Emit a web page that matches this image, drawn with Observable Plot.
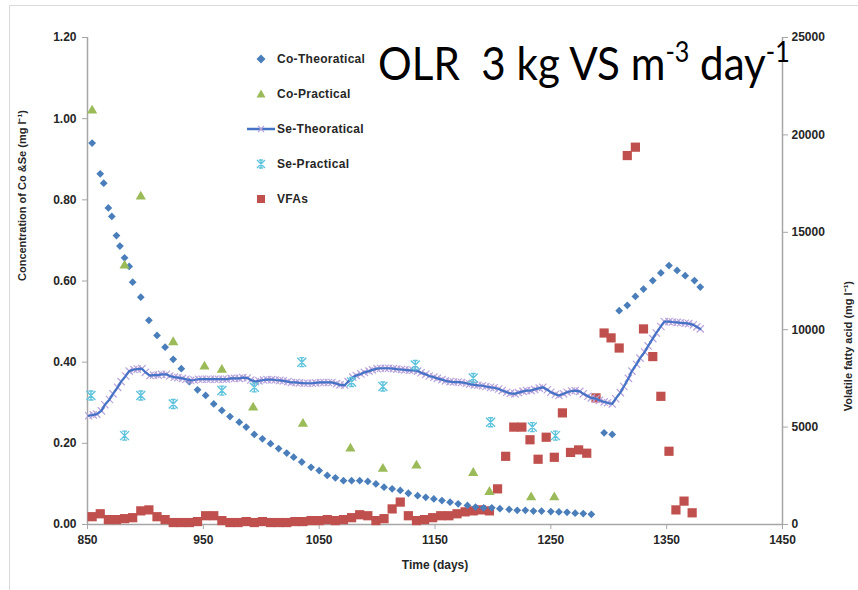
<!DOCTYPE html>
<html><head><meta charset="utf-8">
<script src="https://cdn.jsdelivr.net/npm/d3@7"></script>
<script src="https://cdn.jsdelivr.net/npm/@observablehq/plot@0.6"></script>
<style>
body{margin:0;background:#fff;}
#wrap{position:relative;width:858px;height:590px;overflow:hidden;font-family:"Liberation Sans",Arial,sans-serif;}
#border{position:absolute;left:9px;top:5px;width:870px;height:620px;border:1px solid #d9d9d9;}
#chart{position:absolute;left:0;top:0;}
.lrow{position:absolute;left:244px;height:16px;display:flex;align-items:center;font-weight:bold;font-size:12px;color:#262626;letter-spacing:0.3px;white-space:nowrap;}
.lrow svg{width:33px;height:16px;flex:none;}
</style></head><body>
<div id="wrap"><div id="border"></div><div id="chart"></div><div id="legend"></div></div>
<script>
// ---- data (day, value) ----
const coTheo = [[854,0.94],[861,0.864],[864,0.841],[868,0.78],[871,0.759],[875,0.712],[878,0.686],[882,0.657],[886,0.636],[889,0.597],[896,0.56],[903,0.503],[910,0.466],[917,0.437],[924,0.407],[931,0.384],[938,0.352],[945,0.332],[952,0.318],[959,0.297],[966,0.281],[973,0.266],[981,0.252],[987,0.24],[994,0.222],[1001,0.211],[1008,0.199],[1015,0.187],[1022,0.176],[1028,0.166],[1035,0.154],[1043,0.141],[1050,0.133],[1057,0.121],[1064,0.115],[1071,0.108],[1078,0.108],[1085,0.108],[1092,0.106],[1099,0.1],[1106,0.092],[1113,0.088],[1120,0.084],[1127,0.077],[1135,0.071],[1142,0.067],[1149,0.063],[1156,0.059],[1163,0.055],[1170,0.051],[1178,0.047],[1185,0.043],[1192,0.041],[1199,0.041],[1206,0.039],[1214,0.037],[1221,0.035],[1228,0.035],[1235,0.033],[1242,0.033],[1250,0.032],[1257,0.031],[1264,0.03],[1271,0.028],[1278,0.027],[1285,0.025],[1296,0.226],[1303,0.222],[1309,0.527],[1316,0.54],[1323,0.562],[1330,0.58],[1338,0.601],[1345,0.62],[1352,0.638],[1359,0.626],[1366,0.613],[1374,0.601],[1379,0.585]];
const coPrac = [[854,1.02],[882,0.638],[896,0.808],[924,0.449],[951,0.389],[966,0.381],[993,0.288],[1036,0.248],[1077,0.187],[1105,0.137],[1134,0.145],[1183,0.127],[1197,0.08],[1233,0.067],[1253,0.067]];
const seTheo = [[851,0.268],[855,0.270],[858,0.272],[862,0.280],[865,0.295],[869,0.308],[872,0.322],[876,0.338],[879,0.352],[883,0.366],[886,0.378],[890,0.382],[893,0.383],[897,0.384],[900,0.375],[904,0.367],[907,0.368],[911,0.368],[914,0.370],[918,0.370],[921,0.366],[925,0.363],[928,0.362],[932,0.360],[935,0.358],[939,0.355],[942,0.356],[946,0.358],[949,0.358],[953,0.358],[956,0.358],[960,0.358],[963,0.358],[967,0.358],[970,0.358],[974,0.360],[977,0.360],[981,0.360],[984,0.362],[988,0.361],[991,0.356],[995,0.352],[998,0.354],[1002,0.356],[1005,0.357],[1009,0.357],[1012,0.356],[1016,0.355],[1019,0.354],[1023,0.352],[1026,0.350],[1030,0.350],[1033,0.349],[1037,0.348],[1040,0.348],[1044,0.348],[1047,0.349],[1051,0.350],[1054,0.350],[1058,0.350],[1061,0.350],[1065,0.347],[1068,0.344],[1072,0.343],[1075,0.352],[1079,0.363],[1082,0.367],[1086,0.371],[1089,0.375],[1093,0.378],[1096,0.381],[1100,0.384],[1103,0.385],[1107,0.385],[1110,0.385],[1114,0.384],[1117,0.383],[1121,0.382],[1124,0.381],[1128,0.380],[1131,0.380],[1135,0.378],[1138,0.374],[1142,0.370],[1145,0.366],[1149,0.363],[1152,0.360],[1156,0.357],[1159,0.354],[1163,0.352],[1166,0.351],[1170,0.351],[1173,0.350],[1177,0.348],[1180,0.346],[1184,0.344],[1187,0.343],[1191,0.342],[1194,0.340],[1198,0.338],[1201,0.337],[1205,0.334],[1208,0.330],[1212,0.326],[1215,0.323],[1219,0.322],[1222,0.325],[1226,0.328],[1229,0.330],[1233,0.330],[1236,0.333],[1240,0.336],[1243,0.338],[1247,0.332],[1250,0.326],[1254,0.321],[1257,0.318],[1261,0.322],[1264,0.326],[1268,0.329],[1271,0.330],[1275,0.328],[1278,0.322],[1282,0.316],[1285,0.312],[1289,0.310],[1292,0.306],[1296,0.302],[1299,0.300],[1303,0.297],[1306,0.310],[1310,0.325],[1313,0.340],[1317,0.360],[1320,0.378],[1324,0.395],[1327,0.410],[1331,0.425],[1334,0.440],[1338,0.458],[1341,0.472],[1345,0.488],[1348,0.500],[1352,0.500],[1355,0.499],[1359,0.498],[1362,0.497],[1366,0.496],[1369,0.495],[1373,0.492],[1376,0.487],[1379,0.482]];
const sePrac = [[853,0.318],[882,0.219],[896,0.318],[924,0.297],[966,0.33],[994,0.338],[1035,0.40],[1078,0.351],[1105,0.34],[1133,0.393],[1183,0.361],[1198,0.252],[1234,0.24],[1254,0.219]];
const vfa = [[854,400],[861,550],[868,250],[875,250],[882,300],[889,350],[896,700],[903,750],[910,400],[917,250],[924,100],[931,100],[938,100],[945,150],[952,450],[959,450],[966,200],[973,100],[980,100],[987,150],[994,100],[1001,150],[1008,100],[1015,100],[1022,100],[1029,150],[1036,150],[1043,200],[1050,200],[1057,250],[1064,200],[1071,250],[1078,350],[1085,500],[1092,450],[1099,200],[1106,300],[1113,800],[1120,1150],[1127,450],[1134,200],[1141,250],[1148,350],[1155,450],[1162,450],[1169,550],[1176,650],[1183,700],[1190,750],[1197,700],[1204,1830],[1211,3500],[1218,5000],[1225,5000],[1232,4350],[1239,3350],[1246,4480],[1253,3450],[1260,5730],[1267,3700],[1274,3830],[1281,3660],[1289,6500],[1296,9830],[1302,9580],[1309,9060],[1316,18940],[1323,19370],[1330,10040],[1338,8620],[1345,6580],[1352,3760],[1358,750],[1365,1200],[1372,600]];
const xTicks = [850,950,1050,1150,1250,1350,1450];
const leftTicks = [0,0.2,0.4,0.6,0.8,1.0,1.2];
const rightTicks = [0,5000,10000,15000,20000,25000];
const seriesNames = ["Co-Theoratical","Co-Practical","Se-Theoratical","Se-Practical","VFAs"];
const titleParts = ["OLR  3 kg VS m","-3"," day","-1"];

// ---- styles ----
const C = {blue:"#4a7ebb", green:"#9bbb59", line:"#4472c4", lav:"#b9a3dc", cyan:"#5ec3dc", red:"#c0504d", axis:"#a6a6a6", text:"#262626"};
const RMAX = 25000, LMAX = 1.2;
const toLeft = v => v * LMAX / RMAX;

const starSym = {draw(ctx, size){ const r = Math.sqrt(size/Math.PI);
  ctx.moveTo(-r,-r); ctx.lineTo(r,r); ctx.moveTo(-r,r); ctx.lineTo(r,-r);
  ctx.moveTo(0,-r); ctx.lineTo(0,r);
  ctx.moveTo(-r*0.55,-r); ctx.lineTo(r*0.55,-r); ctx.moveTo(-r*0.55,r); ctx.lineTo(r*0.55,r);}};

const chart = Plot.plot({
  width: 858, height: 590,
  marginLeft: 87, marginRight: 76, marginTop: 37, marginBottom: 66,
  x: {domain: [850, 1450]},
  y: {domain: [0, LMAX]},
  style: {fontFamily: '"Liberation Sans", Arial, sans-serif', fontSize: "12px", fontWeight: "bold", background: "transparent", overflow: "visible"},
  marks: [
    Plot.ruleY([0], {stroke: C.axis, strokeWidth: 1.5}),
    Plot.ruleX([850], {stroke: C.axis, strokeWidth: 1.5}),
    Plot.ruleX([1450], {stroke: C.axis, strokeWidth: 1.5}),
    Plot.axisX(xTicks, {anchor: "bottom", tickSize: 5, tickPadding: 6, stroke: C.axis, fill: C.text, label: null, tickFormat: d => String(d)}),
    Plot.axisY(leftTicks, {anchor: "left", tickSize: 5, tickPadding: 6, stroke: C.axis, fill: C.text, label: null, tickFormat: d => d.toFixed(2)}),
    Plot.axisY(rightTicks.map(toLeft), {anchor: "right", tickSize: 5, tickPadding: 4, stroke: C.axis, fill: C.text, label: null, tickFormat: d => String(Math.round(d * RMAX / LMAX))}),
    Plot.text(["Concentration of Co &Se (mg l⁻¹)"], {frameAnchor: "left", dx: -65, rotate: -90, fontSize: 11, fill: C.text}),
    Plot.text(["Volatile fatty acid (mg l⁻¹)"], {frameAnchor: "right", dx: 66, rotate: -90, fontSize: 11, fill: C.text}),
    Plot.text(["Time (days)"], {frameAnchor: "bottom", dy: 44, fontSize: 12, fill: C.text}),
    Plot.dot(vfa, {x: d => d[0], y: d => toLeft(d[1]), symbol: "square", r: 5.2, fill: C.red}),
    Plot.dot(coTheo, {x: d => d[0], y: d => d[1], symbol: "diamond2", r: 3.5, fill: C.blue}),
    Plot.dot(coPrac, {x: d => d[0], y: d => d[1], symbol: "triangle", r: 3.8, fill: C.green}),
    Plot.dot(seTheo, {x: d => d[0], y: d => d[1], symbol: "times", r: 3.4, stroke: C.lav, strokeWidth: 1.2}),
    Plot.line(seTheo, {x: d => d[0], y: d => d[1], stroke: C.line, strokeWidth: 2.2}),
    Plot.dot(sePrac, {x: d => d[0], y: d => d[1], symbol: starSym, r: 4.5, stroke: C.cyan, strokeWidth: 1.4})
  ]
});
document.getElementById("chart").append(chart);

// title inside the chart
const svg = d3.select(chart);
const t = svg.append("text").attr("transform", "translate(378,80)")
  .attr("text-anchor", "start")
  .attr("font-family", 'Lato,"Open Sans",sans-serif')
  .attr("font-size", 47).attr("font-weight", "normal").attr("fill", "#000").style("white-space", "pre");
t.append("tspan").text(titleParts[0]);
t.append("tspan").attr("dy", -18).attr("font-size", 28).text(titleParts[1]);
t.append("tspan").attr("dy", 18).text(titleParts[2]);
t.append("tspan").attr("dy", -18).attr("font-size", 28).text(titleParts[3]);
const tw = t.node().getBBox().width;
t.attr("transform", `translate(378,80) scale(${412 / tw},1)`);

// legend
const symbols = [
  `<polygon points="17,3.5 21.5,8 17,12.5 12.5,8" fill="${C.blue}"/>`,
  `<polygon points="17,3.5 21.5,11.5 12.5,11.5" fill="${C.green}"/>`,
  `<line x1="3" y1="8" x2="31" y2="8" stroke="${C.line}" stroke-width="2.5"/><path d="M14,5L20,11M14,11L20,5" stroke="${C.lav}" stroke-width="1.3"/>`,
  `<path d="M13,4L21,12M13,12L21,4M17,4L17,12M15,4L19,4M15,12L19,12" stroke="${C.cyan}" stroke-width="1.4" fill="none"/>`,
  `<rect x="13" y="4" width="8" height="8" fill="${C.red}"/>`
];
const leg = document.getElementById("legend");
seriesNames.forEach((name, i) => {
  const row = document.createElement("div");
  row.className = "lrow";
  row.style.top = (59 + 35 * i - 8) + "px";
  row.innerHTML = `<svg viewBox="0 0 33 16">${symbols[i]}</svg><span>${name}</span>`;
  leg.append(row);
});
</script>
</body></html>
